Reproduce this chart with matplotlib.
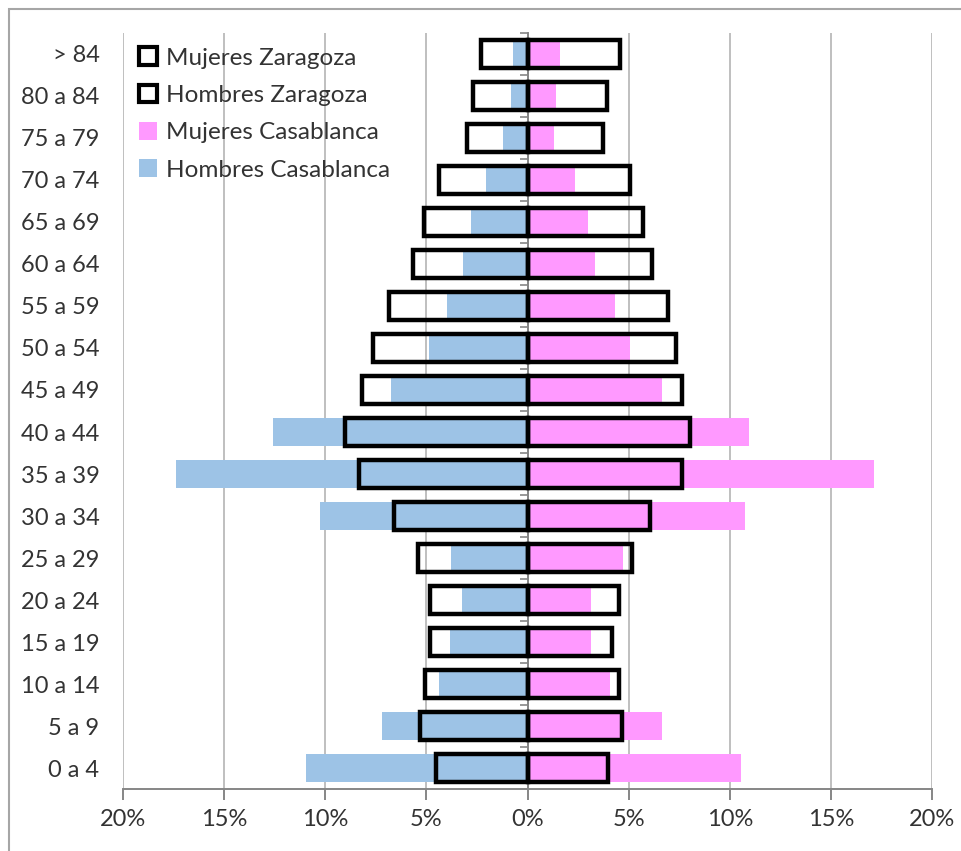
import matplotlib
matplotlib.use("Agg")
import matplotlib.pyplot as plt
from matplotlib.patches import Patch, Rectangle
from matplotlib.ticker import FuncFormatter
import numpy as np

plt.rcParams['font.family'] = ['Lato', 'DejaVu Sans']

categories = ["0 a 4", "5 a 9", "10 a 14", "15 a 19", "20 a 24", "25 a 29",
              "30 a 34", "35 a 39", "40 a 44", "45 a 49", "50 a 54", "55 a 59",
              "60 a 64", "65 a 69", "70 a 74", "75 a 79", "80 a 84", "> 84"]

hombres_casablanca = [10.95, 7.21, 4.38, 3.84, 3.23, 3.79, 10.26, 17.38, 12.57,
                      6.77, 4.86, 4.0, 3.18, 2.8, 2.03, 1.2, 0.82, 0.71]
mujeres_casablanca = [10.54, 6.67, 4.07, 3.16, 3.16, 4.72, 10.74, 17.12, 10.95,
                      6.67, 5.09, 4.31, 3.33, 3.0, 2.34, 1.32, 1.4, 1.6]
hombres_zaragoza = [4.52, 5.31, 5.06, 4.81, 4.84, 5.43, 6.59, 8.35, 9.04,
                    8.19, 7.66, 6.84, 5.68, 5.1, 4.37, 2.97, 2.68, 2.3]
mujeres_zaragoza = [3.97, 4.67, 4.5, 4.18, 4.5, 5.15, 6.06, 7.64, 8.05,
                    7.64, 7.34, 6.97, 6.14, 5.7, 5.07, 3.72, 3.92, 4.59]

x_ticks = [-20, -15, -10, -5, 0, 5, 10, 15, 20]

blue = "#9DC3E6"
pink = "#FF99FF"
grid_c = "#BFBFBF"
axis_c = "#868686"
text_c = "#333333"

fig = plt.figure(figsize=(9.61, 8.51), dpi=100)
ax = fig.add_axes([123/961, 1-789.3/851, (932-123)/961, (789.3-32.7)/851])

y = np.arange(len(categories))
h = 0.67

ax.barh(y, [-v for v in hombres_casablanca], height=h, color=blue, zorder=2,
        label="Hombres Casablanca")
ax.barh(y, mujeres_casablanca, height=h, color=pink, zorder=2,
        label="Mujeres Casablanca")
ax.barh(y, [-v for v in hombres_zaragoza], height=h, facecolor="none",
        edgecolor="black", linewidth=3.2, zorder=4)
ax.barh(y, mujeres_zaragoza, height=h, facecolor="none",
        edgecolor="black", linewidth=3.2, zorder=4)

ax.set_xlim(-20, 20)
ax.set_ylim(-0.5, len(categories) - 0.5)
ax.set_xticks(x_ticks)
ax.xaxis.set_major_formatter(FuncFormatter(lambda v, p: f"{abs(v):.0f}%"))
ax.set_yticks(y)
ax.set_yticklabels(categories)
ax.set_yticks(np.arange(-0.5, len(categories), 1), minor=True)

ax.grid(axis="x", color=grid_c, linewidth=1.4, zorder=0)
ax.set_axisbelow(True)

for s in ["top", "left"]:
    ax.spines[s].set_visible(False)
ax.spines["bottom"].set_color(axis_c)
ax.spines["bottom"].set_linewidth(1.4)
ax.spines["right"].set_position(("data", 0))
ax.spines["right"].set_color(axis_c)
ax.spines["right"].set_linewidth(1.4)
ax.spines["right"].set_zorder(3)

ax.tick_params(axis="y", which="major", left=True, right=False, length=0,
               pad=17, labelsize=17, labelcolor=text_c)
ax.tick_params(axis="y", which="minor", left=False, right=True, direction="in",
               length=6, color=axis_c, width=1.2)
ax.tick_params(axis="x", which="major", length=8, color=axis_c, width=1.4,
               labelsize=17, labelcolor=text_c, pad=6)

handles = [
    Patch(facecolor="white", edgecolor="black", linewidth=3, label="Mujeres Zaragoza"),
    Patch(facecolor="white", edgecolor="black", linewidth=3, label="Hombres Zaragoza"),
    Patch(facecolor=pink, edgecolor="none", label="Mujeres Casablanca"),
    Patch(facecolor=blue, edgecolor="none", label="Hombres Casablanca"),
]
leg = ax.legend(handles=handles, loc="upper left", bbox_to_anchor=(0.005, 0.997),
                frameon=False, fontsize=17.5, handlelength=0.75, handleheight=0.75,
                handletextpad=0.35, labelspacing=0.66, borderaxespad=0.1,
                labelcolor=text_c)

fig.patches.append(Rectangle((9/961, -0.1), 1.2, 1 - 9/851 + 0.1,
                             transform=fig.transFigure, fill=False,
                             edgecolor="#A6A6A6", linewidth=1.5))

fig.savefig("out.png", dpi=100)
